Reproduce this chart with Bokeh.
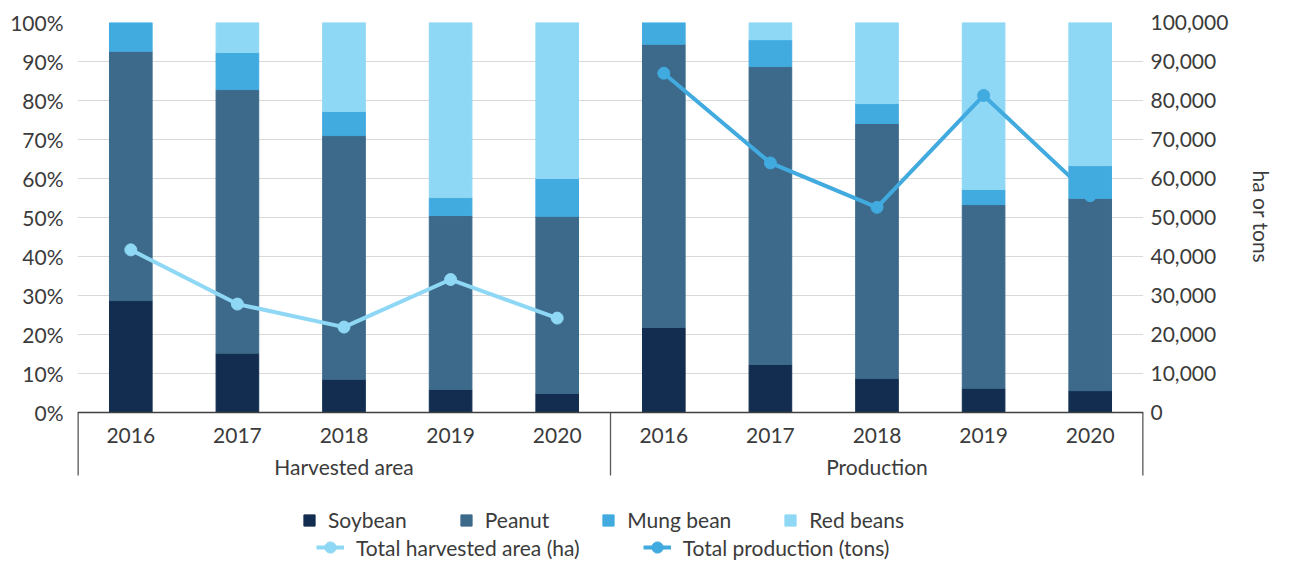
from bokeh.plotting import figure
from bokeh.models import (Range1d, LinearAxis, FixedTicker, PrintfTickFormatter,
                          NumeralTickFormatter, Legend, LegendItem, ColumnDataSource,
                          Grid, Span, Title)
from bokeh.embed import file_html
from bokeh.resources import INLINE
from bokeh.core.properties import value

# ---- data -------------------------------------------------------------
groups = ["Harvested area", "Production"]
years = ["2016", "2017", "2018", "2019", "2020"]
crops = ["Soybean", "Peanut", "Mung bean", "Red beans"]

# crop shares, % of total
soybean_area = [28.7, 15.2, 8.5, 5.9, 4.9]
peanut_area = [63.9, 67.6, 62.5, 44.6, 45.4]
mung_area = [7.4, 9.5, 6.2, 4.6, 9.7]
red_area = [0.0, 7.7, 22.8, 44.9, 40.0]

soybean_prod = [21.8, 12.3, 8.7, 6.2, 5.6]
peanut_prod = [72.6, 76.4, 65.4, 47.1, 49.3]
mung_prod = [5.6, 6.9, 5.1, 3.9, 8.4]
red_prod = [0.0, 4.4, 20.8, 42.8, 36.7]

# totals (right axis)
total_area_ha = [41700, 27800, 21900, 34100, 24200]
total_production_t = [87000, 64000, 52600, 81300, 55600]

# ---- style ------------------------------------------------------------
crop_colors = ["#122d4f", "#3d6a8a", "#41aadf", "#8fd8f5"]
area_color = "#8fd8f5"
prod_color = "#41aadf"
FONT = "Lato"
FS = "21px"
TXT = "#3b3b3b"

# the plot frame runs to the bottom of the canvas; the value axes only cover 0..100 %
PX_PER_PCT = 3.9          # 390 px for 100 %
BELOW_PX = 152            # room under the baseline for categories and legend
y_start = -BELOW_PX / PX_PER_PCT


def px_below(px):
    """Offset of px pixels under the baseline, in percent units."""
    return -px / PX_PER_PCT


n = len(years)
x_pos = [g * n + i + 0.5 for g in range(len(groups)) for i in range(n)]
x_area = x_pos[:n]
x_prod = x_pos[n:]
group_mid = [g * n + n / 2 for g in range(len(groups))]
group_edges = [g * n for g in range(len(groups) + 1)]

src = ColumnDataSource(dict(
    x=x_pos,
    Soybean=soybean_area + soybean_prod,
    Peanut=peanut_area + peanut_prod,
    **{"Mung bean": mung_area + mung_prod, "Red beans": red_area + red_prod},
))

p = figure(width=1293, height=564, x_range=Range1d(0, len(groups) * n),
           y_range=Range1d(y_start, 100),
           min_border_left=77, min_border_right=150, min_border_top=22,
           min_border_bottom=0, x_axis_type=None, y_axis_type=None,
           output_backend="svg", toolbar_location=None)
p.outline_line_color = None
p.extra_y_ranges = {"totals": Range1d(y_start * 1000, 100000)}

p.add_layout(Grid(dimension=1, ticker=FixedTicker(ticks=list(range(10, 101, 10))),
                  grid_line_color="#d9d9d9", grid_line_width=1.2))


def style_axis(ax, standoff):
    ax.axis_line_color = None
    ax.major_tick_line_color = None
    ax.minor_tick_line_color = None
    ax.major_tick_out = 0
    ax.major_tick_in = 0
    ax.major_label_text_font = FONT
    ax.major_label_text_font_size = FS
    ax.major_label_text_color = TXT
    ax.major_label_standoff = standoff


left_axis = LinearAxis(ticker=FixedTicker(ticks=list(range(0, 101, 10))),
                       formatter=PrintfTickFormatter(format="%d%%"), bounds=(0, 100))
style_axis(left_axis, 14)
right_axis = LinearAxis(y_range_name="totals",
                        ticker=FixedTicker(ticks=list(range(0, 100001, 10000))),
                        formatter=NumeralTickFormatter(format="0,0"),
                        bounds=(0, 100000))
style_axis(right_axis, 7)
p.add_layout(left_axis, "left")
p.add_layout(right_axis, "right")

# unit caption beside the right axis, level with the 0..100,000 span
p.add_layout(Title(text="ha or tons", align="left", offset=148, standoff=34,
                   text_font=FONT, text_font_size=FS, text_font_style="normal",
                   text_color=TXT), "right")

# stacked crop shares
bars = p.vbar_stack(crops, x="x", width=0.4, color=crop_colors, source=src)

# totals
area_line = p.line(x_area, total_area_ha, y_range_name="totals",
                   line_color=area_color, line_width=4)
area_pts = p.scatter(x_area, total_area_ha, y_range_name="totals", size=12,
                     fill_color=area_color, line_color=area_color)
prod_line = p.line(x_prod, total_production_t, y_range_name="totals",
                   line_color=prod_color, line_width=4)
prod_pts = p.scatter(x_prod, total_production_t, y_range_name="totals", size=12,
                     fill_color=prod_color, line_color=prod_color)

# baseline, group dividers, year and group labels
p.add_layout(Span(location=0, dimension="width", line_color="#404040", line_width=1.3))
p.segment(x0=group_edges, y0=[0] * len(group_edges), x1=group_edges,
          y1=[px_below(63)] * len(group_edges), line_color="#595959",
          line_width=[2.6 if e in (group_edges[0], group_edges[-1]) else 1.3
                      for e in group_edges])
p.text(x=x_pos, y=[px_below(23)] * len(x_pos), text=years * len(groups),
       text_font=value(FONT), text_font_size=FS, text_color=TXT,
       text_align="center", text_baseline="middle")
p.text(x=group_mid, y=[px_below(54)] * len(group_mid), text=groups,
       text_font=value(FONT), text_font_size=FS, text_color=TXT,
       text_align="center", text_baseline="middle")

common = dict(orientation="horizontal", padding=0, margin=0, border_line_color=None,
              background_fill_alpha=0, label_text_font=FONT, label_text_font_size=FS,
              label_text_color=TXT, label_standoff=12, label_height=24)
legend_crops = Legend(items=[LegendItem(label=c, renderers=[r]) for c, r in zip(crops, bars)],
                      location=(225, 32), glyph_width=14, glyph_height=14, spacing=52, **common)
legend_totals = Legend(items=[LegendItem(label="Total harvested area (ha)", renderers=[area_line, area_pts]),
                              LegendItem(label="Total production (tons)", renderers=[prod_line, prod_pts])],
                       location=(239, 2), glyph_width=28, glyph_height=30, spacing=63, **common)
p.add_layout(legend_crops)
p.add_layout(legend_totals)

open("out.html", "w").write(file_html(p, INLINE))
